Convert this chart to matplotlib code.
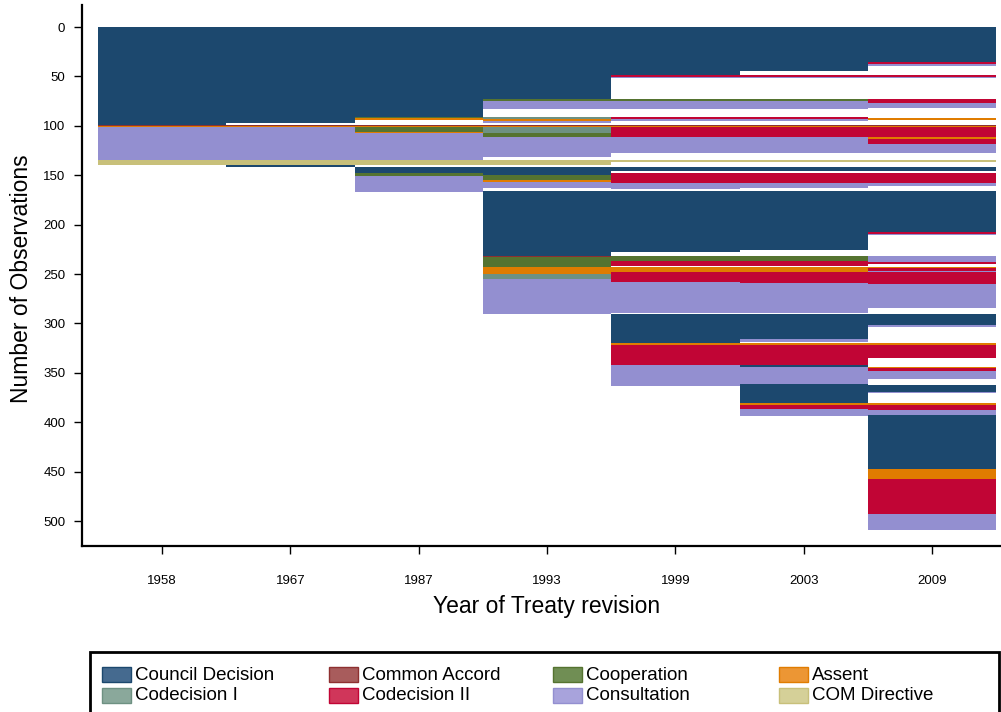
import matplotlib
matplotlib.use("Agg")
import matplotlib.pyplot as plt
from matplotlib.patches import Rectangle

plt.rcParams["font.family"] = ["Liberation Sans", "DejaVu Sans"]

# procedure categories, legend order (row by row)
categories = ["Council Decision", "Common Accord", "Cooperation", "Assent",
              "Codecision I", "Codecision II", "Consultation", "COM Directive"]
bar_colors = ["#1c486e", "#8e3030", "#557330", "#e07c00",
              "#6e9182", "#c10535", "#938fd0", "#c8c07a"]
swatch_colors = ["#456a8f", "#a85c5c", "#708e54", "#ec9634",
                 "#8aa89b", "#d0365a", "#a8a3dc", "#d5d098"]

years = ["1958", "1967", "1987", "1993", "1999", "2003", "2009"]

# run lengths per treaty, top to bottom: (category, observations); None = empty
runs_1958 = [("Council Decision", 99), ("Common Accord", 1), ("Assent", 1),
             ("Consultation", 34), ("COM Directive", 5)]
runs_1967 = [("Council Decision", 97), (None, 2), ("Common Accord", 1), ("Assent", 1),
             ("Consultation", 34), ("COM Directive", 5), ("Council Decision", 2)]
runs_1987 = [("Council Decision", 91), ("Cooperation", 1), ("Assent", 2), (None, 5),
             ("Common Accord", 1), ("Assent", 1), ("Cooperation", 5), ("Assent", 1),
             ("Consultation", 28), ("COM Directive", 5), (None, 2),
             ("Council Decision", 6), ("Cooperation", 3), ("Consultation", 16)]
runs_1993 = [("Council Decision", 73), ("Cooperation", 2), ("Consultation", 8), (None, 8),
             ("Codecision I", 2), ("Assent", 2), ("Consultation", 2), (None, 2),
             ("Common Accord", 1), ("Assent", 1), ("Codecision I", 6), ("Cooperation", 4),
             ("Consultation", 21), (None, 3), ("COM Directive", 5), (None, 2),
             ("Council Decision", 8), ("Cooperation", 5), ("Assent", 2), ("Consultation", 6),
             (None, 3), ("Council Decision", 66), ("Common Accord", 1), ("Cooperation", 10),
             ("Assent", 7), ("Codecision I", 5), ("Consultation", 35)]
runs_1999 = [("Council Decision", 49), ("Codecision II", 2), ("Consultation", 1), (None, 21),
             ("Cooperation", 2), ("Consultation", 8), (None, 8), ("Codecision II", 2),
             ("Consultation", 2), (None, 4), ("Common Accord", 1), ("Assent", 1),
             ("Codecision II", 10), ("Consultation", 17), (None, 7), ("COM Directive", 2),
             (None, 5), ("Council Decision", 4), (None, 2), ("Codecision II", 10),
             ("Consultation", 6), (None, 2), ("Council Decision", 62), (None, 4),
             ("Cooperation", 5), ("Codecision II", 5), (None, 1), ("Assent", 5),
             ("Codecision II", 10), ("Consultation", 31), (None, 1), ("Council Decision", 30),
             ("Assent", 2), ("Codecision II", 20), ("Consultation", 21)]
runs_2003 = [("Council Decision", 44), (None, 5), ("Codecision II", 2), ("Consultation", 1),
             (None, 21), ("Cooperation", 2), ("Consultation", 8), (None, 8),
             ("Codecision II", 2), ("Consultation", 2), (None, 4), ("Common Accord", 1),
             ("Assent", 1), ("Codecision II", 10), ("Consultation", 16), (None, 8),
             ("COM Directive", 2), (None, 5), ("Council Decision", 4), (None, 2),
             ("Codecision II", 10), ("Consultation", 5), (None, 3), ("Council Decision", 60),
             (None, 6), ("Cooperation", 5), ("Codecision II", 5), (None, 1), ("Assent", 5),
             ("Codecision II", 11), ("Consultation", 30), (None, 1), ("Council Decision", 26),
             ("Consultation", 3), (None, 1), ("Assent", 2), ("Codecision II", 20),
             ("Council Decision", 2), ("Consultation", 17), ("Council Decision", 20),
             ("Assent", 2), ("Codecision II", 4), ("Consultation", 7)]
runs_2009 = [("Council Decision", 35), ("Codecision II", 2), ("Consultation", 2), (None, 10),
             ("Codecision II", 2), ("Consultation", 1), (None, 21), ("Codecision II", 4),
             ("Consultation", 5), (None, 10), ("Assent", 2), (None, 5), ("Common Accord", 1),
             ("Assent", 1), ("Codecision II", 10), ("Assent", 2), ("Codecision II", 5),
             ("Consultation", 9), (None, 8), ("COM Directive", 2), (None, 5),
             ("Council Decision", 4), (None, 2), ("Codecision II", 10), ("Consultation", 3),
             (None, 5), ("Council Decision", 41), ("Codecision II", 2), ("Consultation", 2),
             (None, 21), ("Consultation", 6), ("Codecision II", 2), (None, 3), ("Assent", 1),
             ("Codecision II", 3), ("Consultation", 1), ("Codecision II", 12),
             ("Consultation", 24), (None, 6), ("Council Decision", 12), ("Consultation", 2),
             (None, 16), ("Assent", 2), ("Codecision II", 13), (None, 9), ("Assent", 1),
             ("Codecision II", 3), ("Consultation", 8), (None, 6), ("Council Decision", 7),
             ("Consultation", 1), (None, 11), ("Assent", 2), ("Codecision II", 5),
             ("Consultation", 5), ("Council Decision", 54), ("Assent", 10),
             ("Codecision II", 36), ("Consultation", 16)]

columns = [runs_1958, runs_1967, runs_1987, runs_1993, runs_1999, runs_2003, runs_2009]
yticks = list(range(0, 501, 50))

W, H = 1001, 712
fig = plt.figure(figsize=(W / 100, H / 100), dpi=100)
# axes box in pixels: left 82, right 1000, top 5, bottom 546
ax = fig.add_axes([82 / W, 1 - 546 / H, 918 / W, 541 / H])

color_of = dict(zip(categories, bar_colors))
for i, runs in enumerate(columns):
    bottom = 0
    for cat, n in runs:
        if cat is not None:
            ax.bar(i, n, bottom=bottom, width=1.0, color=color_of[cat],
                   linewidth=0, align="center")
        bottom += n

ax.set_xlim(-0.624, 6.53)
ax.set_ylim(525.3, -22.3)
ax.set_xticks(range(len(years)))
ax.set_xticklabels(years)
ax.set_yticks(yticks)
ax.tick_params(axis="both", direction="out", length=6, width=1, labelsize=9.5)
ax.tick_params(axis="x", pad=15)
ax.tick_params(axis="y", pad=6)
for s in ["top", "right"]:
    ax.spines[s].set_visible(False)
for s in ["left", "bottom"]:
    ax.spines[s].set_linewidth(1.6)

ax.set_xlabel("Year of Treaty revision", fontsize=16.5)
ax.set_ylabel("Number of Observations", fontsize=16.5)
ax.xaxis.set_label_coords((547 - 82) / 918, -(607 - 546) / 541)
ax.xaxis.label.set_va("center")
ax.yaxis.set_label_coords((22 - 82) / 918, (546 - 279) / 541)
ax.yaxis.label.set_va("center")


def px_rect(x0, y0, x1, y1, **kw):
    return Rectangle((x0 / W, 1 - y1 / H), (x1 - x0) / W, (y1 - y0) / H,
                     transform=fig.transFigure, **kw)


# legend frame (runs past the bottom edge in the original)
fig.add_artist(px_rect(90, 652, 999, 716, facecolor="none", edgecolor="black",
                       linewidth=2, clip_on=False))
col_x = [102, 329, 553, 779]
row_y = [667, 688]
for k, (cat, sc) in enumerate(zip(categories, swatch_colors)):
    r, c = divmod(k, 4)
    x0, y0 = col_x[c], row_y[r]
    fig.add_artist(px_rect(x0, y0, x0 + 29, y0 + 15, facecolor=sc,
                           edgecolor=color_of[cat], linewidth=1))
    fig.text((x0 + 33) / W, 1 - (y0 + 8) / H, cat, fontsize=13.5,
             va="center", ha="left")

fig.savefig("out.png", dpi=100)
